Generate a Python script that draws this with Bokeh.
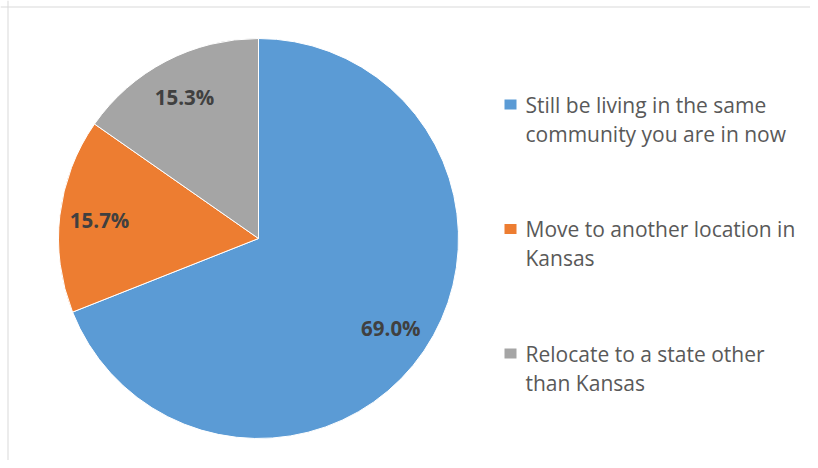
import numpy as np
from bokeh.plotting import figure
from bokeh.models import Range1d, Span, ColumnDataSource
from bokeh.core.properties import value
from bokeh.embed import file_html
from bokeh.resources import INLINE

# ---- data ----
categories = [
    "Still be living in the same\ncommunity you are in now",
    "Move to another location in\nKansas",
    "Relocate to a state other\nthan Kansas",
]
shares = [69.0, 15.7, 15.3]
colors = ["#5B9BD5", "#ED7D31", "#A5A5A5"]

# ---- layout ----
W, H = 810, 460
cx, cy, R = 258, 222, 200

p = figure(width=W, height=H, output_backend="svg", toolbar_location=None,
           x_range=Range1d(0, W), y_range=Range1d(0, H), min_border=0)
p.axis.visible = False
p.grid.visible = False
p.outline_line_color = None
p.background_fill_color = "white"
p.border_fill_color = "white"

# border (top & left visible in reference)
p.add_layout(Span(location=453.5, dimension="width", line_color="#d9d9d9", line_width=1))
p.add_layout(Span(location=7.5, dimension="height", line_color="#d9d9d9", line_width=1))

frac = np.array(shares) / np.sum(shares)
ang = frac * 2 * np.pi
start = np.pi / 2 - np.concatenate([[0], np.cumsum(ang)[:-1]])
end = start - ang
mid = (start + end) / 2

src = ColumnDataSource(dict(start=start, end=end, color=colors,
                            lx=cx + 0.8 * R * np.cos(mid), ly=cy + 0.8 * R * np.sin(mid),
                            lab=[f"{s:.1f}%" for s in shares]))
p.wedge(x=cx, y=cy, radius=R, start_angle="start", end_angle="end", direction="clock",
        fill_color="color", line_color="white", line_width=1, source=src)
p.text(x="lx", y="ly", text="lab", source=src, text_align="center", text_baseline="middle",
       text_font=value("Open Sans"), text_font_style="bold", text_font_size="20.5px",
       text_color="#404040")

# legend
n = len(categories)
first_y = 356 - 124.5 * np.arange(n)
msrc = ColumnDataSource(dict(y=first_y, color=colors))
p.rect(x=510, y="y", width=12, height=10, fill_color="color", line_color=None, source=msrc)
tx, ty, tt = [], [], []
for i, c in enumerate(categories):
    for j, line in enumerate(c.split("\n")):
        tx.append(525)
        ty.append(first_y[i] - 29 * j)
        tt.append(line)
p.text(x=tx, y=ty, text=tt, text_align="left", text_baseline="middle",
       text_font=value("Open Sans"), text_font_size="21px", text_color="#595959")

open("out.html", "w").write(file_html(p, INLINE))
